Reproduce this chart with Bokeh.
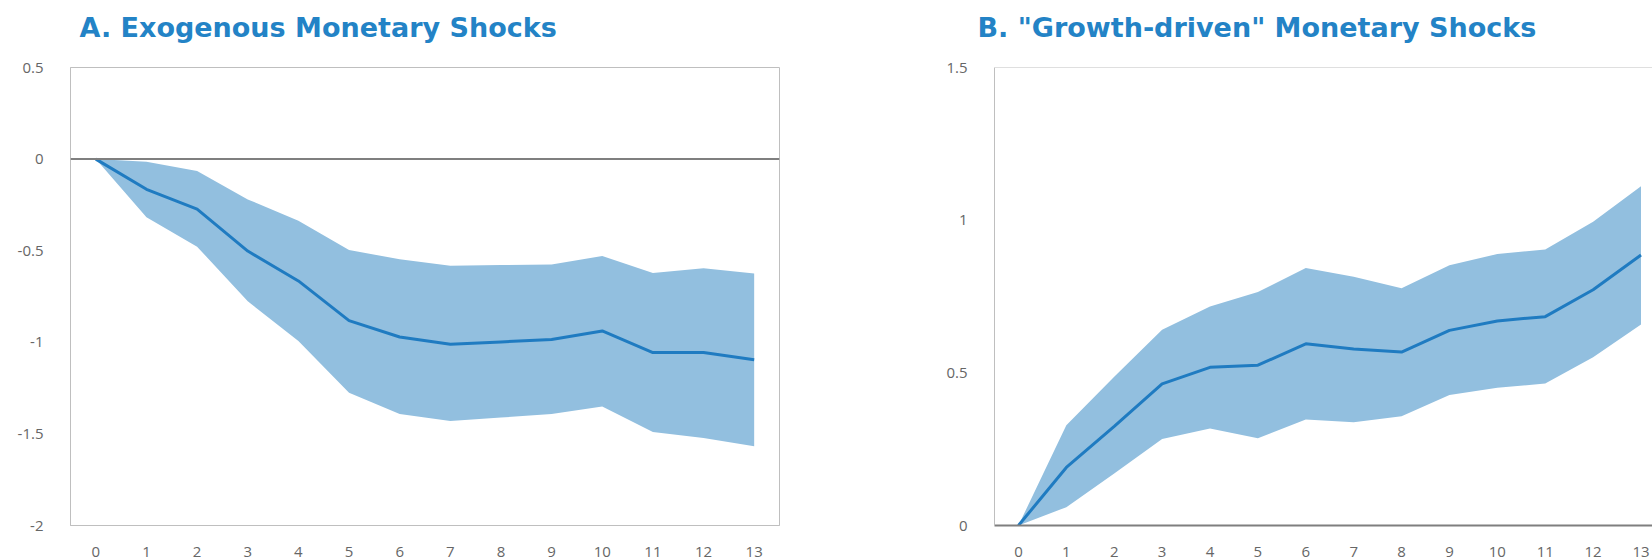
from bokeh.plotting import figure
from bokeh.layouts import row, column
from bokeh.models import Span, FixedTicker, Range1d
from bokeh.core.properties import value
from bokeh.embed import file_html
from bokeh.resources import INLINE

# ---- data ----
horizon = list(range(14))
x_tick_labels = [str(i) for i in horizon]

a_mean = [0, -0.165, -0.273, -0.502, -0.665, -0.882, -0.971, -1.011, -0.998, -0.985, -0.938, -1.056, -1.056, -1.095]
a_upper = [0, -0.015, -0.065, -0.220, -0.336, -0.496, -0.547, -0.582, -0.578, -0.575, -0.529, -0.622, -0.596, -0.625]
a_lower = [0, -0.318, -0.478, -0.776, -0.993, -1.275, -1.391, -1.429, -1.411, -1.391, -1.351, -1.490, -1.522, -1.568]

b_mean = [0, 0.190, 0.325, 0.464, 0.518, 0.525, 0.595, 0.578, 0.568, 0.639, 0.670, 0.684, 0.772, 0.886]
b_upper = [0, 0.328, 0.487, 0.641, 0.717, 0.765, 0.843, 0.815, 0.777, 0.852, 0.889, 0.904, 0.995, 1.111]
b_lower = [0, 0.060, 0.170, 0.283, 0.318, 0.286, 0.347, 0.338, 0.358, 0.427, 0.451, 0.465, 0.551, 0.658]

a_title = "A. Exogenous Monetary Shocks"
b_title = 'B. "Growth-driven" Monetary Shocks'
a_yticks = [0.5, 0, -0.5, -1, -1.5, -2]
a_ylabels = {0.5: "0.5", 0: "0", -0.5: "-0.5", -1: "-1", -1.5: "-1.5", -2: "-2"}
b_yticks = [0, 0.5, 1, 1.5]
b_ylabels = {0: "0", 0.5: "0.5", 1: "1", 1.5: "1.5"}

BAND = "#92BFDF"
LINE = "#1F7BC1"
TITLE = "#2383C6"
FRAME = "#BFBFBF"
ZERO = "#7F7F7F"
TICKC = "#666666"
FONT = "Open Sans"
TITLE_FONT = "DejaVu Sans"

WA, WB, HT, HP = 830, 822, 52, 508


def title_fig(width, text, tx):
    t = figure(width=width, height=HT, x_range=Range1d(0, width), y_range=Range1d(HT, 0),
               output_backend="svg", toolbar_location=None,
               x_axis_location=None, y_axis_location=None,
               min_border=0, min_border_left=0, min_border_right=0,
               min_border_top=0, min_border_bottom=0)
    t.xgrid.visible = False
    t.ygrid.visible = False
    t.outline_line_color = None
    t.background_fill_color = "white"
    t.border_fill_color = "white"
    t.text(x=[tx], y=[27], text=[text], text_font=value(TITLE_FONT), text_font_style="bold",
           text_font_size="27px", text_color=TITLE, text_baseline="alphabetic", text_align="left")
    return t


def style(p, yticks, ylabels):
    p.xgrid.visible = False
    p.ygrid.visible = False
    p.xaxis.ticker = FixedTicker(ticks=horizon)
    p.xaxis.major_label_overrides = {i: s for i, s in zip(horizon, x_tick_labels)}
    p.yaxis.ticker = FixedTicker(ticks=yticks)
    p.yaxis.major_label_overrides = ylabels
    for ax in (p.xaxis, p.yaxis):
        ax.major_tick_line_color = None
        ax.minor_tick_line_color = None
        ax.major_label_text_font = FONT
        ax.major_label_text_font_size = "15px"
        ax.major_label_text_color = TICKC
    p.xaxis.major_label_standoff = 15
    p.yaxis.major_label_standoff = 21
    p.yaxis.axis_line_color = FRAME
    p.background_fill_color = "white"
    p.border_fill_color = "white"


# ---- Panel A ----
pa = figure(width=WA, height=HP, x_range=(-0.5, 13.5), y_range=(-2, 0.5),
            output_backend="svg", toolbar_location=None,
            min_border_left=70, min_border_right=51, min_border_top=15, min_border_bottom=35)
style(pa, a_yticks, a_ylabels)
pa.xaxis.axis_line_color = FRAME
pa.outline_line_color = FRAME
pa.outline_line_width = 1
pa.varea(x=horizon, y1=a_lower, y2=a_upper, fill_color=BAND)
pa.add_layout(Span(location=0, dimension="width", line_color=ZERO, line_width=2))
pa.line(horizon, a_mean, line_color=LINE, line_width=3)

# ---- Panel B ----
pb = figure(width=WB, height=HP, x_range=(-0.5, 13.24), y_range=(0, 1.5),
            output_backend="svg", toolbar_location=None,
            min_border_left=164, min_border_right=0, min_border_top=15, min_border_bottom=35)
style(pb, b_yticks, b_ylabels)
pb.xaxis.axis_line_color = ZERO
pb.xaxis.axis_line_width = 2
pb.outline_line_color = None
pb.add_layout(Span(location=1.5, dimension="width", line_color=FRAME, line_width=1))
pb.varea(x=horizon, y1=b_lower, y2=b_upper, fill_color=BAND)
pb.line(horizon, b_mean, line_color=LINE, line_width=3)

ta = title_fig(WA, a_title, 79)
tb = title_fig(WB, b_title, 147)

layout = column(row(ta, tb), row(pa, pb))
open("out.html", "w").write(file_html(layout, INLINE))
